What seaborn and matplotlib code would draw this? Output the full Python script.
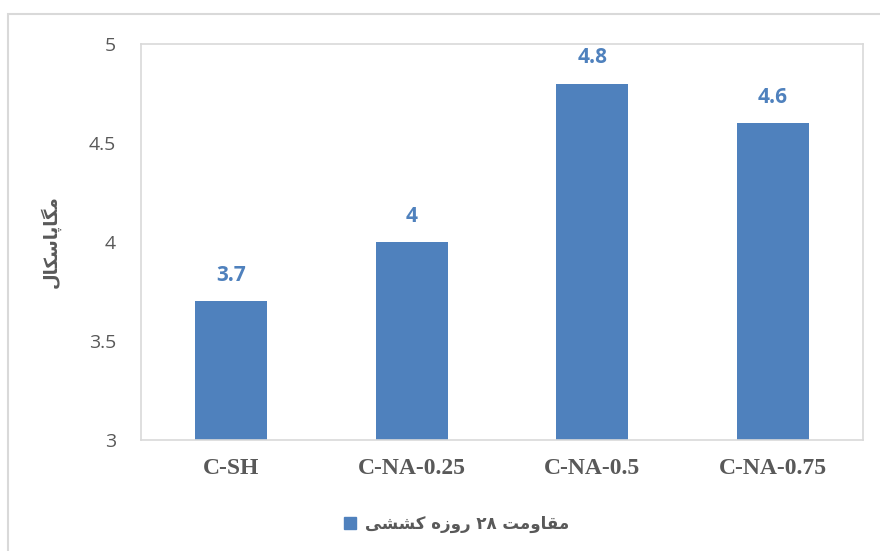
import matplotlib
matplotlib.use("Agg")
import matplotlib.pyplot as plt
from matplotlib.patches import Rectangle
from matplotlib.lines import Line2D
import seaborn as sns
import pandas as pd

# Data
categories = ["C-SH", "C-NA-0.25", "C-NA-0.5", "C-NA-0.75"]
values = [3.7, 4.0, 4.8, 4.6]
value_labels = ["3.7", "4", "4.8", "4.6"]
y_ticks = [3, 3.5, 4, 4.5, 5]
y_tick_labels = ["3", "3.5", "4", "4.5", "5"]

# Persian texts written in shaped presentation forms, visual (left-to-right) order
y_label = "\uFEDD\uFE8E\uFB91\uFEB3\uFE8E\uFB58\uFE8E\uFB95\uFEE3"          # مگاپاسکال
series_name = ("\uFBFD\uFEB8\uFEB8\uFB90 \uFEE9\uFEAF\uFEED\uFEAD "
               "\u06F2\u06F8 \uFE96\uFEE3\uFEED\uFE8E\uFED8\uFEE3")          # مقاومت ۲۸ روزه کششی

BAR = "#4F81BD"
GRAY = "#595959"
EDGE = "#D9D9D9"

df = pd.DataFrame({"cat": categories, "val": values})

sns.set_theme(style="white")
plt.rcParams["font.family"] = ["DejaVu Sans"]

fig = plt.figure(figsize=(8.8, 5.51), dpi=100)
ax = fig.add_axes([141 / 880, 1 - 440 / 551, (863 - 141) / 880, (440 - 44) / 551])

sns.barplot(data=df, x="cat", y="val", color=BAR, saturation=1, width=0.4,
            ax=ax, bottom=0)
for p in ax.patches:
    p.set_edgecolor("none")

ax.set_ylim(3, 5)
ax.set_yticks(y_ticks)
ax.set_yticklabels(y_tick_labels, fontsize=14, color=GRAY, family="Open Sans")
ax.set_xlim(-0.5, 3.5)
ax.set_xticks(range(len(categories)))
ax.set_xticklabels(categories, fontsize=17, color=GRAY, fontweight="bold",
                   family="Liberation Serif")
ax.tick_params(axis="both", length=0)
ax.tick_params(axis="x", pad=13)
ax.tick_params(axis="y", pad=18)
ax.set_xlabel("")
ax.set_ylabel(y_label, fontsize=13, color=GRAY, fontweight="bold", labelpad=20)

for s in ax.spines.values():
    s.set_visible(True)
    s.set_color(EDGE)
    s.set_linewidth(1.2)

for i, (v, lab) in enumerate(zip(values, value_labels)):
    ax.annotate(lab, (i, v), xytext=(0, 11), textcoords="offset points",
                ha="center", va="bottom", fontsize=15, fontweight="bold",
                color=BAR, family="Open Sans")

handle = Line2D([], [], marker="s", linestyle="none", markersize=9,
                markerfacecolor=BAR, markeredgecolor=BAR)
fig.legend([handle], [series_name], loc="center", bbox_to_anchor=(455 / 880, 1 - 524 / 551),
           frameon=False, handletextpad=0.4, handlelength=1.0,
           prop={"family": "DejaVu Sans", "size": 12, "weight": "bold"},
           labelcolor=GRAY)

# Chart-area border
fig.patches.append(Rectangle((8 / 880, -0.1), 1.2, 1 - 14 / 551 + 0.1,
                             transform=fig.transFigure, fill=False,
                             edgecolor=EDGE, linewidth=1.5))

fig.savefig("out.png", dpi=100)
